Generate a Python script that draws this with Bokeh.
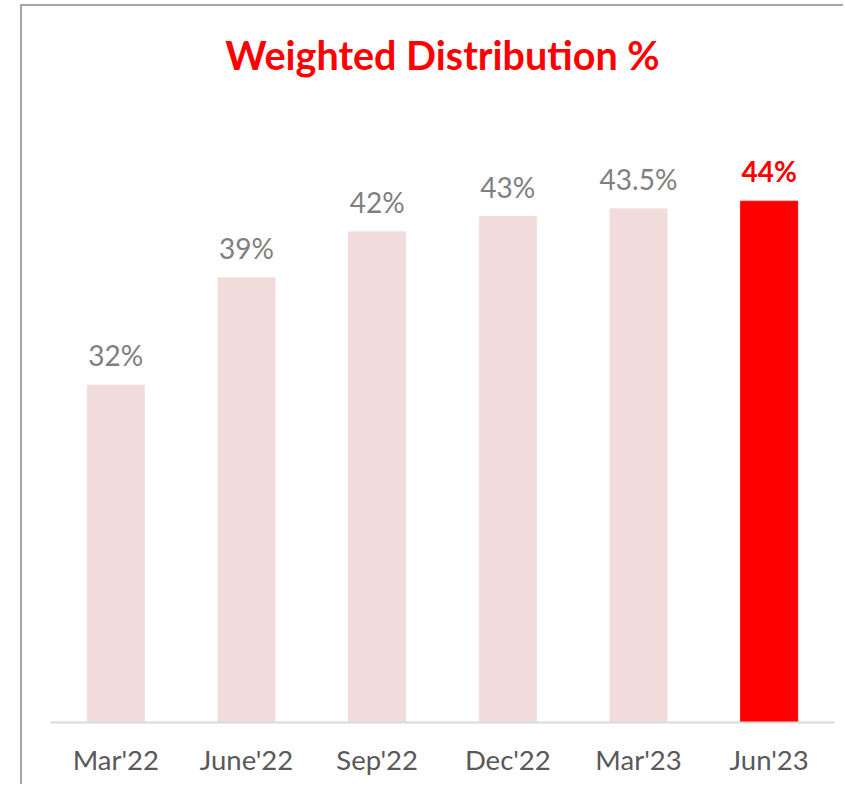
from bokeh.plotting import figure
from bokeh.models import ColumnDataSource, Range1d, FactorRange, Label
from bokeh.core.properties import value
from bokeh.embed import file_html
from bokeh.resources import INLINE

# ---- data ----
title_text = "Weighted Distribution %"
periods = ["Mar'22", "June'22", "Sep'22", "Dec'22", "Mar'23", "Jun'23"]
distribution = [32, 39, 42, 43, 43.5, 44]
bar_colors = ["#f2dcdb", "#f2dcdb", "#f2dcdb", "#f2dcdb", "#f2dcdb", "#ff0000"]
label_colors = ["#7f7f7f", "#7f7f7f", "#7f7f7f", "#7f7f7f", "#7f7f7f", "#ff0000"]
label_styles = ["normal", "normal", "normal", "normal", "normal", "bold"]
labels = [f"{v:g}%" for v in distribution]

src = ColumnDataSource(dict(x=periods, y=distribution, c=bar_colors,
                            lc=label_colors, ls=label_styles, t=labels))

# plot area spans from the top of the canvas; bars start at 10
p = figure(x_range=FactorRange(*periods, range_padding=0),
           y_range=Range1d(10, 56.7),
           width=823, height=780,
           output_backend="svg", toolbar_location=None,
           min_border_left=28, min_border_right=11,
           min_border_top=0, min_border_bottom=64)

p.margin = (4, 0, 0, 20)
p.styles = {"border-left": "2px solid #a6a6a6", "border-top": "2px solid #a6a6a6"}

title = Label(x=3.0, y=53.6, text=title_text,
              text_align="center", text_baseline="alphabetic",
              text_color="#ff0000", text_font="Lato", text_font_style="bold",
              text_font_size="39.5px")
p.add_layout(title)

p.vbar(x="x", top="y", bottom=10, width=0.436, color="c", source=src)
p.text(x="x", y="y", text="t", source=src, text_align="center",
       text_baseline="alphabetic", y_offset=-30,
       text_color="lc", text_font_style="ls",
       text_font=value("Lato"), text_font_size="28px")

p.yaxis.visible = False
p.xgrid.grid_line_color = None
p.ygrid.grid_line_color = None
p.outline_line_color = None
p.background_fill_color = "white"
p.border_fill_color = "white"

ax = p.xaxis[0]
ax.axis_line_color = "#d9d9d9"
ax.axis_line_width = 2
ax.major_tick_line_color = None
ax.minor_tick_line_color = None
ax.major_label_text_font = "Lato"
ax.major_label_text_font_size = "27.5px"
ax.major_label_text_color = "#595959"
ax.major_label_standoff = 14

open("out.html", "w").write(file_html(p, INLINE))
